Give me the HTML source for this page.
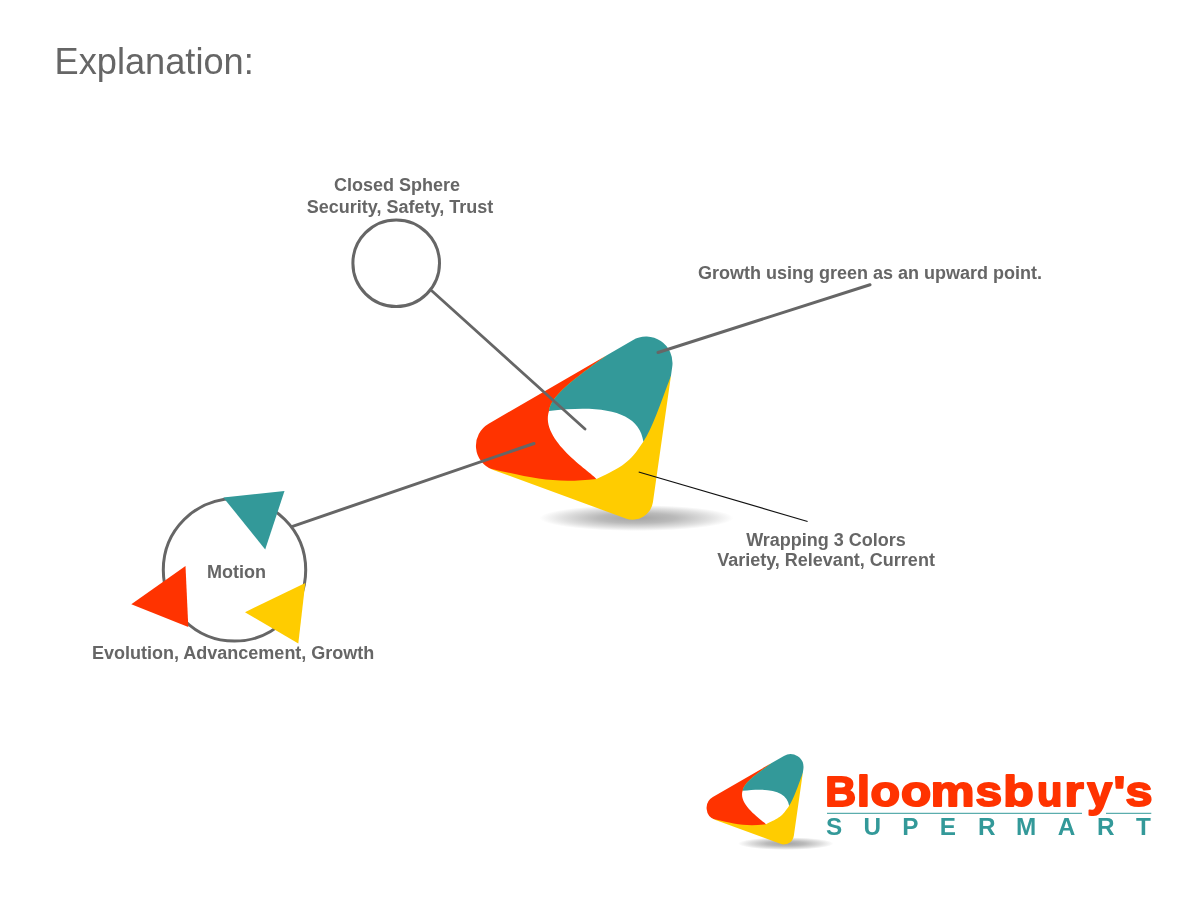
<!DOCTYPE html>
<html><head><meta charset="utf-8">
<style>
html,body{margin:0;padding:0;background:#fff;width:1200px;height:900px;overflow:hidden}
svg{position:absolute;left:0;top:0;display:block;will-change:transform}
text{font-family:"Liberation Sans",sans-serif;fill:#666}
.lb{font-weight:bold;font-size:18px}
.bl{font-weight:bold;font-size:43px;fill:#ff3300;stroke:#ff3300;stroke-width:2px;stroke-linejoin:round}
.sm{font-weight:bold;font-size:24.3px;fill:#339999}
</style></head><body>
<svg width="1200" height="900" viewBox="0 0 1200 900">
<defs>
<radialGradient id="sh" cx="0.5" cy="0.5" r="0.5">
<stop offset="0" stop-color="#a4a4a4"/>
<stop offset="0.4" stop-color="#bababa"/>
<stop offset="0.75" stop-color="#e0e0e0"/>
<stop offset="1" stop-color="#ffffff"/>
</radialGradient>
<mask id="oc" maskUnits="userSpaceOnUse" x="440" y="300" width="260" height="260"><path d="M488.65,423.68 L632.71,340.13 A26.5,26.5 0 0 1 672.24,366.79 L652.92,502.19 A20.4,20.4 0 0 1 625.70,518.46 L492.66,469.68 A25.5,25.5 0 0 1 488.65,423.68 Z" fill="#fff"/></mask>
<g id="logo">
<ellipse cx="636.5" cy="518" rx="97" ry="13" fill="url(#sh)"/>
<g mask="url(#oc)">
<rect x="460" y="320" width="230" height="220" fill="#ffcc00"/>
<path d="M440,300 L605.5,356.1 C585.3,371.5 550.4,393.9 549.0,411.0 L600,440 L596.5,479 C554.2,483.8 532.5,478.3 489.8,468.4 L470,463 L440,480 Z" fill="#ff3300"/>
<path d="M605.5,356.1 L620,320 L720,320 L720,368 L671.3,375 C660.0,404.5 652.6,427.8 643.4,441.5 L600,425 L549,411 C550.4,393.9 585.3,371.5 605.5,356.1 Z" fill="#339999"/>
</g>
<path d="M549,411 C604.5,404.2 639.2,412.0 643.4,441.5 C629.4,463.1 623.2,466.3 596.5,479.0 C590.8,471.6 539.4,440.1 549.0,411.0 Z" fill="#fff"/>
</g>
</defs>
<text x="54.6" y="74" style="font-size:36.2px">Explanation:</text>

<text class="lb" x="397" y="191" text-anchor="middle">Closed Sphere</text>
<text class="lb" x="400" y="213" text-anchor="middle">Security, Safety, Trust</text>
<circle cx="396.2" cy="263.2" r="43.3" fill="none" stroke="#666" stroke-width="3"/>

<text class="lb" x="870" y="278.5" text-anchor="middle">Growth using green as an upward point.</text>

<use href="#logo"/>

<line x1="432" y1="291" x2="585" y2="429" stroke="#666" stroke-width="2.8" stroke-linecap="round"/>
<line x1="658" y1="352.5" x2="870" y2="284.8" stroke="#666" stroke-width="3" stroke-linecap="round"/>
<line x1="292.6" y1="526.3" x2="534" y2="443.5" stroke="#666" stroke-width="3" stroke-linecap="round"/>
<line x1="638.7" y1="472" x2="807.6" y2="521.5" stroke="#111" stroke-width="1.15"/>

<text class="lb" x="826" y="545.5" text-anchor="middle">Wrapping 3 Colors</text>
<text class="lb" x="826" y="566" text-anchor="middle">Variety, Relevant, Current</text>

<circle cx="234.5" cy="569.9" r="71.2" fill="none" stroke="#666" stroke-width="3"/>
<text class="lb" x="236.5" y="578" text-anchor="middle">Motion</text>
<polygon points="223.3,497.4 284.5,491 265.2,549.5" fill="#339999"/>
<polygon points="131.3,604.2 185.5,566 188.3,627" fill="#ff3300"/>
<polygon points="305.3,583 298.3,643.4 245,612.2" fill="#ffcc00"/>
<text class="lb" x="92" y="659">Evolution, Advancement, Growth</text>

<use href="#logo" transform="translate(471.95,588.2) scale(0.493)"/>
<line x1="827" y1="813.3" x2="1082" y2="813.3" stroke="#339999" stroke-width="1"/>
<line x1="1106" y1="813.3" x2="1151.3" y2="813.3" stroke="#339999" stroke-width="1"/>
<text transform="translate(825.14,805.7) scale(0.992,1)" class="bl">B</text>
<text transform="translate(856.95,805.7) scale(1.076,1)" class="bl">l</text>
<text transform="translate(870.54,805.7) scale(1.124,1)" class="bl">o</text>
<text transform="translate(900.92,805.7) scale(1.148,1)" class="bl">o</text>
<text transform="translate(930.80,805.7) scale(1.143,1)" class="bl">m</text>
<text transform="translate(975.53,805.7) scale(1.109,1)" class="bl">s</text>
<text transform="translate(1003.18,805.7) scale(1.158,1)" class="bl">b</text>
<text transform="translate(1036.89,805.7) scale(0.966,1)" class="bl">u</text>
<text transform="translate(1064.39,805.7) scale(1.148,1)" class="bl">r</text>
<text transform="translate(1087.19,805.7) scale(1.045,1)" class="bl">y</text>
<text transform="translate(1113.50,805.7) scale(1.167,1)" class="bl">&apos;</text>
<text transform="translate(1125.42,805.7) scale(1.126,1)" class="bl">s</text>
<text x="826.05" y="835.3" class="sm">S</text>
<text x="863.54" y="835.3" class="sm">U</text>
<text x="902.37" y="835.3" class="sm">P</text>
<text x="939.87" y="835.3" class="sm">E</text>
<text x="978.12" y="835.3" class="sm">R</text>
<text x="1016.12" y="835.3" class="sm">M</text>
<text x="1057.64" y="835.3" class="sm">A</text>
<text x="1097.12" y="835.3" class="sm">R</text>
<text x="1135.98" y="835.3" class="sm">T</text>
</svg>
</body></html>
